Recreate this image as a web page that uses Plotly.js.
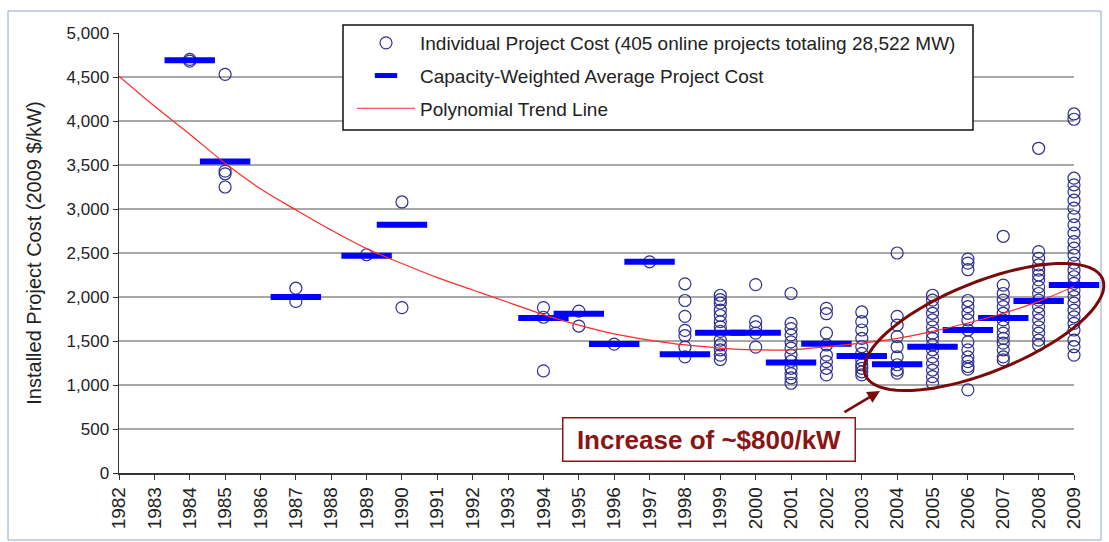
<!DOCTYPE html>
<html>
<head>
<meta charset="utf-8">
<script src="https://cdn.plot.ly/plotly-3.0.1.min.js"></script>
<style>
  body { margin: 0; background: #fff; }
  #chart { width: 1109px; height: 542px; }
</style>
</head>
<body>
<div id="chart"></div>
<script>
// individual project costs, grouped by year online (2009 $/kW)
const projectYears = [1984, 1985, 1987, 1989, 1990, 1994, 1995, 1996, 1997, 1998, 1999,
  2000, 2001, 2002, 2003, 2004, 2005, 2006, 2007, 2008, 2009];
const projectCosts = [
  [4700, 4680],
  [4530, 3430, 3400, 3250],
  [2100, 1950],
  [2480],
  [3080, 1880],
  [1880, 1770, 1160],
  [1840, 1670],
  [1465],
  [2400],
  [2150, 1960, 1780, 1620, 1560, 1430, 1320],
  [2020, 1970, 1930, 1850, 1790, 1720, 1660, 1610, 1510, 1455, 1400, 1340, 1290],
  [2140, 1720, 1660, 1590, 1430],
  [2040, 1700, 1640, 1570, 1490, 1420, 1340, 1270, 1190, 1130, 1080, 1020],
  [1870, 1810, 1590, 1455, 1340, 1265, 1190, 1115],
  [1830, 1720, 1625, 1530, 1435, 1360, 1285, 1230, 1190, 1150, 1115],
  [2500, 1780, 1680, 1550, 1435, 1320, 1230, 1170, 1135],
  [2020, 1965, 1890, 1815, 1740, 1660, 1590, 1530, 1455, 1400, 1320, 1245, 1170, 1095, 1020],
  [2430, 2385, 2310, 1960, 1890, 1815, 1740, 1625, 1490, 1400, 1320, 1265, 1210, 1180, 945],
  [2690, 2135, 2040, 1965, 1890, 1815, 1740, 1660, 1590, 1530, 1475, 1400, 1320, 1285],
  [3690, 2515, 2440, 2365, 2305, 2250, 2195, 2115, 2040, 1965, 1890, 1815, 1740, 1660, 1590, 1510, 1455],
  [4080, 4020, 3350, 3275, 3195, 3100, 3010, 2915, 2820, 2725, 2630, 2555, 2475, 2385, 2305,
    2230, 2155, 2080, 2005, 1930, 1850, 1775, 1700, 1625, 1510, 1435, 1340]
];

// capacity-weighted averages
const avgYears = projectYears;
const avgCosts = [4690, 3540, 2000, 2470, 2820, 1760, 1810, 1465, 2400, 1350, 1595,
  1595, 1255, 1470, 1330, 1235, 1435, 1625, 1760, 1955, 2135];

// polynomial trend
const trendYears = [1982, 1983, 1984, 1985, 1986, 1987, 1988, 1989, 1990, 1991, 1992, 1993, 1994, 1995,
  1996, 1997, 1998, 1999, 2000, 2001, 2002, 2003, 2004, 2005, 2006, 2007, 2008, 2009];
const trendCosts = [4510, 4170, 3850, 3520, 3230, 2990, 2760, 2550, 2380, 2220, 2080, 1940, 1800, 1680,
  1580, 1510, 1455, 1420, 1400, 1400, 1435, 1475, 1530, 1610, 1705, 1815, 1950, 2120];

const xs = [], ys = [];
projectYears.forEach((yr, i) => {
  projectCosts[i].forEach(c => { xs.push(yr); ys.push(c); });
});

// pixel -> paper helpers (plot area 119..1074 x 33..473)
const L = 119, R = 1074, T = 33, B = 473;
const px = x => (x - L) / (R - L);
const py = y => (B - y) / (B - T);

const font = '"Liberation Sans", Arial, sans-serif';
const maroon = '#8b1414';

// tilted ellipse round the 2004-2009 group
function ellipsePath(cx, cy, a, b, deg) {
  const phi = deg * Math.PI / 180;
  let d = '';
  for (let k = 0; k <= 72; k++) {
    const t = k / 72 * 2 * Math.PI;
    const x = cx + a * Math.cos(t) * Math.cos(phi) - b * Math.sin(t) * Math.sin(phi);
    const y = cy - (a * Math.cos(t) * Math.sin(phi) + b * Math.sin(t) * Math.cos(phi));
    d += (k === 0 ? 'M' : 'L') + px(x).toFixed(4) + ',' + py(y).toFixed(4);
  }
  return d + 'Z';
}

const traces = [
  {
    x: xs, y: ys,
    type: 'scatter', mode: 'markers',
    name: 'Individual Project Cost (405 online projects totaling 28,522 MW)',
    legendgroup: 'a',
    cliponaxis: false,
    marker: { symbol: 'circle-open', size: 12, color: '#2f2f8f', line: { width: 1.2, color: '#2f2f8f' } }
  },
  {
    x: avgYears, y: avgCosts,
    type: 'scatter', mode: 'markers',
    name: 'Capacity-Weighted Average Project Cost',
    legendgroup: 'b',
    cliponaxis: false,
    marker: { symbol: 'line-ew', size: 36, color: '#0000ff', line: { width: 6, color: '#0000ff' } }
  },
  {
    x: trendYears, y: trendCosts,
    type: 'scatter', mode: 'lines',
    name: 'Polynomial Trend Line',
    legendgroup: 'c',
    line: { color: '#ff2a2a', width: 1.2, shape: 'spline' }
  }
];

const layout = {
  width: 1109, height: 542,
  margin: { l: L, r: 1109 - R, t: T, b: 542 - B },
  paper_bgcolor: '#fff', plot_bgcolor: '#fff',
  font: { family: font, color: '#222' },
  showlegend: true,
  legend: {
    x: px(352), y: py(24), xanchor: 'left', yanchor: 'top',
    bgcolor: 'rgba(0,0,0,0)', borderwidth: 0,
    font: { size: 19, family: font, color: '#222' },
    traceorder: 'grouped', tracegroupgap: 5, itemwidth: 58
  },
  xaxis: {
    range: [1982, 2009], dtick: 1, tick0: 1982,
    tickangle: -90, ticks: 'outside', ticklen: 5, tickcolor: '#333',
    showline: true, linecolor: '#333', linewidth: 1.5,
    showgrid: false, zeroline: false,
    tickfont: { size: 19, family: font, color: '#222' }
  },
  yaxis: {
    range: [0, 5000], dtick: 500, tickformat: ',d',
    ticks: 'outside', ticklen: 5, tickcolor: '#333',
    showline: true, linecolor: '#333', linewidth: 1.5,
    showgrid: true, gridcolor: '#a8a8a8', gridwidth: 1.2, zeroline: false,
    tickfont: { size: 17, family: font, color: '#222' },
    title: { text: 'Installed Project Cost (2009 $/kW)', font: { size: 20, family: font, color: '#222' }, standoff: 19 }
  },
  shapes: [
    // outer chart frame
    { type: 'rect', xref: 'paper', yref: 'paper', x0: px(8), x1: px(1101), y0: py(540), y1: py(11),
      line: { color: '#8fa6cc', width: 1 }, layer: 'below' },
    // legend box
    { type: 'rect', xref: 'paper', yref: 'paper', x0: px(343), x1: px(973), y0: py(130), y1: py(25),
      line: { color: '#111', width: 1.5 }, fillcolor: '#fff', layer: 'above' },
    { type: 'path', xref: 'paper', yref: 'paper', path: ellipsePath(984, 327, 128, 45, 22),
      line: { color: '#7a0a0a', width: 3 }, layer: 'above' }
  ],
  annotations: [
    { xref: 'paper', yref: 'paper', x: px(708.5), y: py(439.5), xanchor: 'center', yanchor: 'middle',
      text: '<b>Increase of ~$800/kW</b>', showarrow: false,
      font: { size: 26, family: font, color: maroon },
      width: 289, height: 40, bgcolor: '#fff', bordercolor: maroon, borderwidth: 1.5 },
    { xref: 'paper', yref: 'paper', x: px(880), y: py(391), text: '', showarrow: true,
      ax: -37, ay: 22, arrowhead: 2, arrowsize: 1, arrowwidth: 2.5, arrowcolor: '#7a0a0a' }
  ]
};

Plotly.newPlot('chart', traces, layout, { displayModeBar: false, staticPlot: true });
</script>
</body>
</html>
